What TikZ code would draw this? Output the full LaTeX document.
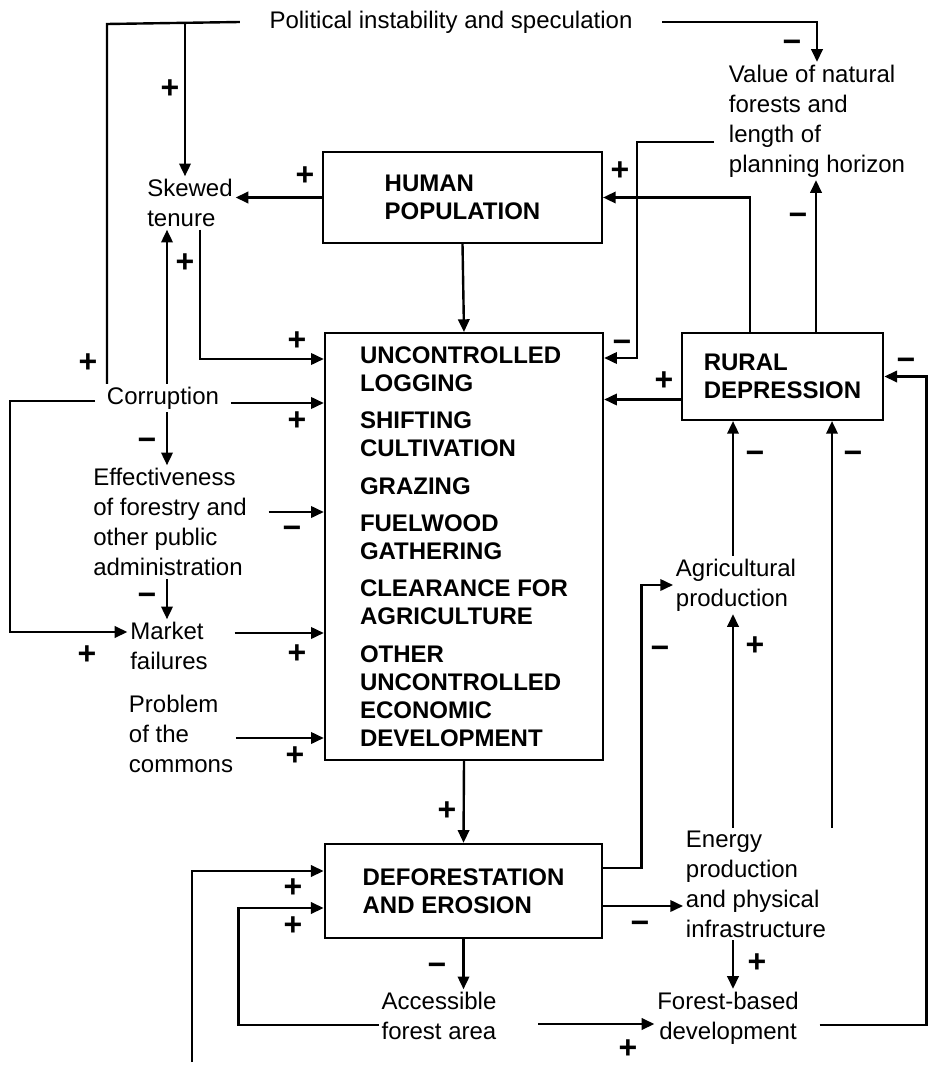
\documentclass[tikz,border=0pt]{standalone}
\usepackage{fontspec}
\setmainfont{Liberation Sans}
\usetikzlibrary{arrows.meta,positioning}

\begin{document}
\begin{tikzpicture}[
  x=0.75pt, y=-0.75pt,
  font=\fontsize{18}{22.5}\selectfont,
  tx/.style={align=left, inner sep=2pt},
  bx/.style={draw, line width=1.8pt, align=left, font=\fontsize{18}{21}\selectfont\bfseries},
  ar/.style={-{Triangle[length=9.5pt,width=8.5pt]}, line width=1.8pt},
  ln/.style={line width=1.8pt},
  sg/.style={font=\fontsize{24}{24}\selectfont\bfseries, inner sep=0pt, text height=16pt, text depth=0pt}
]
\useasboundingbox (0,0) rectangle (927,1066);

% boxes
\node[bx, minimum width=209pt, minimum height=68pt] (hum) at (462.5,197.5) {HUMAN\\POPULATION};
\node[bx, minimum width=208.5pt, minimum height=320pt] (unc) at (464,546.5)
  {UNCONTROLLED\\LOGGING\\[7pt]SHIFTING\\CULTIVATION\\[7pt]GRAZING\\[7pt]FUELWOOD\\GATHERING\\[7pt]CLEARANCE FOR\\AGRICULTURE\\[7pt]OTHER\\UNCONTROLLED\\ECONOMIC\\DEVELOPMENT};
\node[bx, minimum width=151pt, minimum height=65pt] (rur) at (782.5,376.5) {RURAL\\DEPRESSION};
\node[bx, minimum width=208pt, minimum height=70.5pt] (def) at (463.5,891) {DEFORESTATION\\AND EROSION};

% factors
\node[tx, inner xsep=22pt] (pol) at (451,22) {Political instability and speculation};
\node[tx] (val) at (817,121) {Value of natural\\forests and\\length of\\planning horizon};
\node[tx] (skew) at (190,203) {Skewed\\tenure};
\node[tx] (corr) at (163,398) {Corruption};
\node[tx] (eff) at (170,522) {Effectiveness\\of forestry and\\other public\\administration};
\node[tx] (mkt) at (169,646) {Market\\failures};
\node[tx] (prob) at (181,734) {Problem\\of the\\commons};
\node[tx] (agr) at (736,585) {Agricultural\\production};
\node[tx] (ene) at (756,884) {Energy\\production\\and physical\\infrastructure};
\node[tx, align=center] (acc) at (439,1016) {Accessible\\forest area};
\node[tx, align=center] (fbd) at (728,1018) {Forest-based\\development};
\coordinate (pj) at (185,24);
\coordinate (lowend) at (192,1062);

% links
\draw[ln] (107,0 |- corr.north) -- (107,24) -- (pol.west);
\draw[ar] (pj) -- (pj |- skew.north);
\draw[ar] (pol.east) -| (val.north);
\draw[ar] ([shift={(-12,21)}]val.west) -| (637,358) -- (unc.east |- 0,358);
\draw[ar] (750,0 |- rur.north) |- (hum.east);
\draw[ar] (816,0 |- rur.north) -- (816,0 |- val.south);
\draw[ar] (hum.west) -- (skew.east |- hum.west);
\draw[ar] (hum.south) -- (unc.north);
\draw[ar] (200,0 |- skew.south) |- (unc.west |- 0,359);
\draw[ar] (167,0 |- corr.north) -- (167,0 |- skew.south);
\draw[ar] ([shift={(9,5)}]corr.east) coordinate (c1) -- (c1 -| unc.west);
\draw[ar] (167,0 |- corr.south) -- (167,0 |- eff.north);
\draw[ar] ([shift={(-9,3)}]corr.west) coordinate (c2) -- (10,0 |- c2) |- ([shift={(0,-14)}]mkt.west);
\draw[ar] ([shift={(19,-10)}]eff.east) coordinate (e1) -- (e1 -| unc.west);
\draw[ar] (167,0 |- eff.south) -- (167,0 |- mkt.north);
\draw[ar] ([shift={(24,-13)}]mkt.east) coordinate (m1) -- (m1 -| unc.west);
\draw[ar] ([shift={(0,4)}]prob.east) coordinate (p1) -- (p1 -| unc.west);
\draw[ar] (unc.south) -- (def.north);
\draw[ar] ([shift={(0,23)}]rur.west) coordinate (r1) -- (r1 -| unc.east);
\draw[ar] (lowend) |- ([shift={(0,-20)}]def.west);
\draw[ar] ([shift={(0,9)}]acc.west) -| ([shift={(-85,17)}]def.west) -- ([shift={(0,17)}]def.west);
\draw[ar] ([shift={(0,-23)}]def.east) -- ++(38,0) |- (agr.west);
\draw[ar] ([shift={(0,15)}]def.east) coordinate (d1) -- (d1 -| ene.west);
\draw[ar] (def.south) -- (def.south |- acc.north);
\draw[ar] ([shift={(39,8)}]acc.east) coordinate (a1) -- (a1 -| fbd.west);
\draw[ar] (733,0 |- agr.north) -- (733,0 |- rur.south);
\draw[ar] (733,0 |- ene.north) -- (733,0 |- agr.south);
\draw[ar] (832,0 |- ene.north) -- (832,0 |- rur.south);
\draw[ar] (733,0 |- ene.south) -- (733,0 |- fbd.north);
\draw[ar] ([shift={(18,7)}]fbd.east) -| ([shift={(42,0)}]rur.east) -- (rur.east);

% signs
\node[sg] (s1) at (170,88) {+};
\node[sg] (s2) at (792,42) {−};
\node[sg] (s3) at (305,175) {+};
\node[sg] (s4) at (620,170) {+};
\node[sg] (s5) at (798,215) {−};
\node[sg] (s6) at (622,342) {−};
\node[sg] (s7) at (185,262) {+};
\node[sg] (s8) at (297,340) {+};
\node[sg] (s9) at (88,362) {+};
\node[sg] (s10) at (297,420) {+};
\node[sg] (s11) at (147,440) {−};
\node[sg] (s12) at (292,528) {−};
\node[sg] (s13) at (147,595) {−};
\node[sg] (s14) at (87,654) {+};
\node[sg] (s15) at (297,653) {+};
\node[sg] (s16) at (295,755) {+};
\node[sg] (s17) at (664,380) {+};
\node[sg] (s18) at (906,360) {−};
\node[sg] (s19) at (755,453) {−};
\node[sg] (s20) at (853,453) {−};
\node[sg] (s21) at (660,648) {−};
\node[sg] (s22) at (755,645) {+};
\node[sg] (s23) at (447,810) {+};
\node[sg] (s24) at (293,887) {+};
\node[sg] (s25) at (293,925) {+};
\node[sg] (s26) at (640,923) {−};
\node[sg] (s27) at (437,965) {−};
\node[sg] (s28) at (757,962) {+};
\node[sg] (s29) at (628,1048) {+};
\end{tikzpicture}
\end{document}
